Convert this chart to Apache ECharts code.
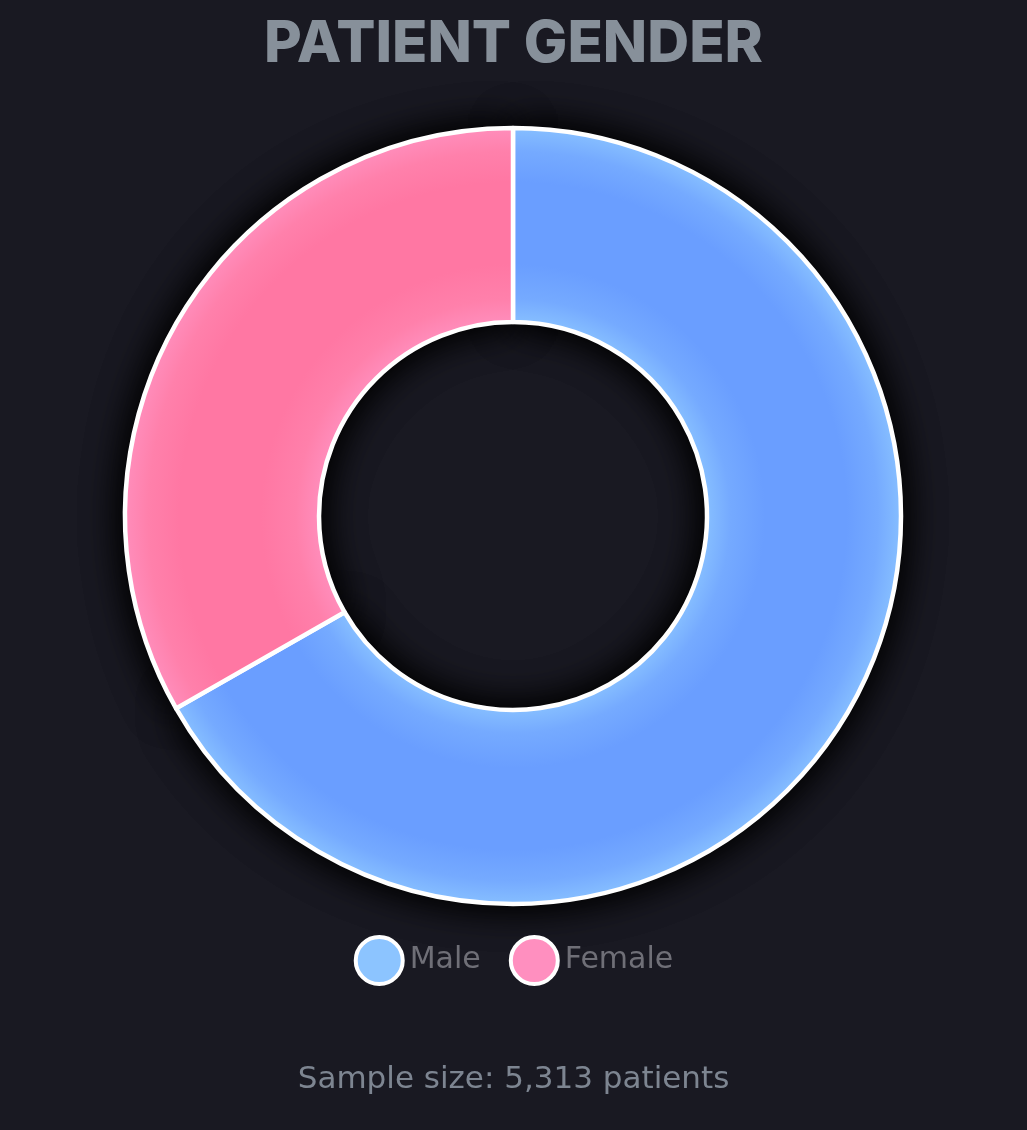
<!DOCTYPE html>
<html><head><meta charset="utf-8">
<script src="https://cdn.jsdelivr.net/npm/echarts@6/dist/echarts.min.js"></script>
<style>html,body{margin:0;padding:0;background:#191922;}#c{width:1027px;height:1130px;}</style>
</head><body><div id="c"></div>
<script>
const categories = ['Male', 'Female'];
const values = [3546, 1767];
const sampleSize = '5,313';
const titleText = 'PATIENT GENDER';

const cx = 513, cy = 516, rIn = 194, rOut = 388;
function grad(light, mid, dark) {
  return {
    type: 'radial', x: cx, y: cy, r: rOut, global: true,
    colorStops: [
      { offset: 0, color: light },
      { offset: rIn / rOut, color: light },
      { offset: 0.56, color: mid },
      { offset: 0.65, color: dark },
      { offset: 0.86, color: dark },
      { offset: 0.94, color: mid },
      { offset: 1, color: light }
    ]
  };
}
const grads = [grad('#86beff', '#75aaff', '#6a9eff'), grad('#ff8dbb', '#ff80ab', '#ff77a3')];
const legendColors = ['#8cc4ff', '#ff8fbf'];

const shadowLayer = {
  type: 'pie', center: [cx, cy], radius: [rIn, rOut], startAngle: 90, clockwise: true,
  silent: true, label: { show: false }, labelLine: { show: false },
  emphasis: { disabled: true },
  itemStyle: { color: '#000', borderWidth: 0, shadowBlur: 40, shadowColor: '#000' },
  data: categories.map((c, i) => ({ name: c, value: values[i] }))
};

const chart = echarts.init(document.getElementById('c'));
chart.setOption({
  backgroundColor: '#191922',
  animation: false,
  title: {
    text: titleText, left: 'center', top: 11,
    textStyle: { color: '#87909a', fontSize: 58, fontWeight: 800, fontFamily: 'Inter' }
  },
  legend: {
    top: 930, left: 'center', itemWidth: 47, itemHeight: 47, itemGap: 28,
    icon: 'circle', selectedMode: false,
    textStyle: { color: '#6f6f77', fontSize: 30, fontFamily: 'DejaVu Sans', padding: [0, 0, 0, 2] },
    data: categories.map((c, i) => ({ name: c, itemStyle: { color: legendColors[i], borderColor: '#fff', borderWidth: 4 } }))
  },
  graphic: [{
    type: 'text', left: 'center', top: 1064,
    style: { text: 'Sample size: ' + sampleSize + ' patients', fill: '#7d8591', fontSize: 31, fontFamily: 'DejaVu Sans' }
  }],
  series: [
    Object.assign({}, shadowLayer, { name: 'shadow1' }),
    Object.assign({}, shadowLayer, { name: 'shadow2' }),
    {
      type: 'pie', center: [cx, cy], radius: [rIn, rOut], startAngle: 90, clockwise: true,
      label: { show: false }, labelLine: { show: false },
      emphasis: { disabled: true },
      itemStyle: { borderColor: '#ffffff', borderWidth: 4.5 },
      data: categories.map((c, i) => ({ name: c, value: values[i], itemStyle: { color: grads[i] } }))
    }
  ]
});
</script></body></html>
